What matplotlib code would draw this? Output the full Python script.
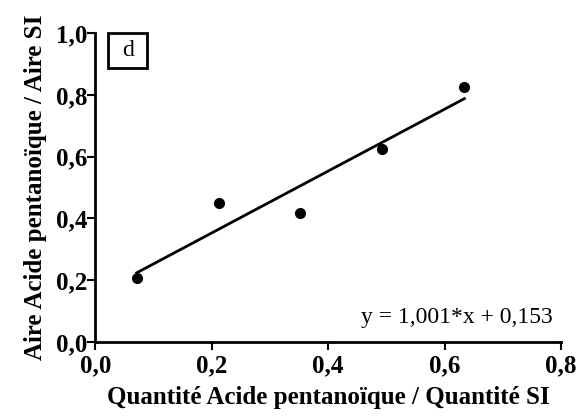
import matplotlib
matplotlib.use("Agg")
import matplotlib.pyplot as plt
from matplotlib.patches import Rectangle
import numpy as np

plt.rcParams['font.family'] = ['Liberation Serif', 'DejaVu Serif']

# data
x_qty = [0.071, 0.212, 0.352, 0.492, 0.634]
y_area = [0.206, 0.450, 0.418, 0.625, 0.826]
slope = 1.001
intercept = 0.153
x_ticks = [0.0, 0.2, 0.4, 0.6, 0.8]
x_tick_labels = ['0,0', '0,2', '0,4', '0,6', '0,8']
y_ticks = [0.0, 0.2, 0.4, 0.6, 0.8, 1.0]
y_tick_labels = ['0,0', '0,2', '0,4', '0,6', '0,8', '1,0']

fig = plt.figure(figsize=(5.85, 4.18), dpi=100)
ax = fig.add_axes([0.1632, 0.1818, 0.7958, 0.7392])

xfit = np.array([min(x_qty), max(x_qty)])
ax.plot(xfit, slope * xfit + intercept, color='black', linewidth=2)
ax.plot(x_qty, y_area, 'o', color='black', markersize=7, clip_on=False)

ax.set_xlim(0, 0.8)
ax.set_ylim(0, 1.0)
ax.set_xticks(x_ticks)
ax.set_xticklabels(x_tick_labels, fontweight='bold', fontsize=18)
ax.set_yticks(y_ticks)
ax.set_yticklabels(y_tick_labels, fontweight='bold', fontsize=18)
ax.tick_params(direction='out', length=6, width=1.5)
ax.tick_params(axis='x', pad=3)
ax.tick_params(axis='y', pad=0)

for side in ['top', 'right']:
    ax.spines[side].set_visible(False)
for side in ['left', 'bottom']:
    ax.spines[side].set_linewidth(2)

ax.set_xlabel('Quantité Acide pentanoïque / Quantité SI', fontweight='bold', fontsize=18, labelpad=6)
ax.set_ylabel('Aire Acide pentanoïque / Aire SI', fontweight='bold', fontsize=18, labelpad=6)

ax.text(0.982, 0.08, 'y = 1,001*x + 0,153', transform=ax.transAxes, ha='right', va='center', fontsize=17)

# label box "d"
ax.add_patch(Rectangle((0.027, 0.887), 0.084, 0.113, transform=ax.transAxes,
                       facecolor='white', edgecolor='black', linewidth=2, clip_on=False))
ax.text(0.069, 0.942, 'd', transform=ax.transAxes, ha='center', va='center', fontsize=17)

fig.savefig('out.png', dpi=100)
